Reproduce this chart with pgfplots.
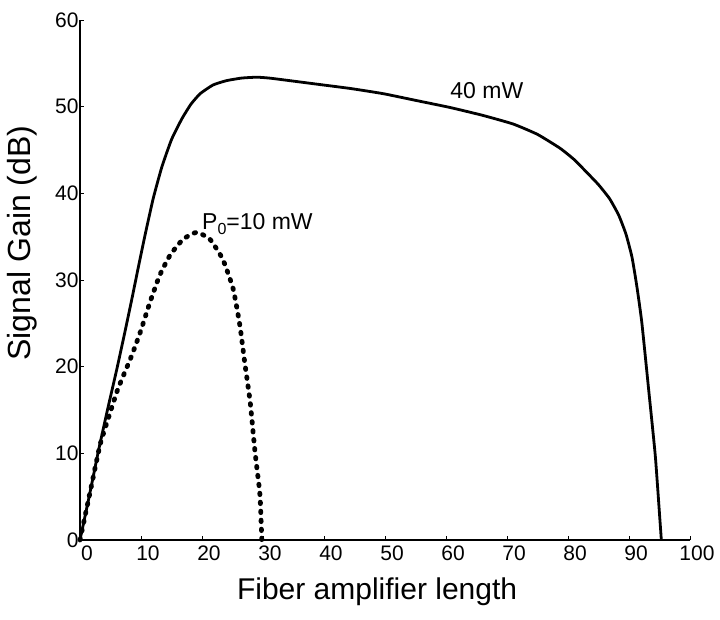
\documentclass[border=0pt]{standalone}
\usepackage{pgfplots}
\pgfplotsset{compat=1.18}
\usepackage{fontspec}
\setmainfont{Liberation Sans}
\begin{document}
\begin{tikzpicture}
\useasboundingbox (0,0) rectangle (720bp,620bp);
\begin{axis}[
  at={(80bp,80bp)}, anchor=south west,
  scale only axis, width=610bp, height=520bp,
  xmin=0, xmax=100, ymin=0, ymax=60,
  axis x line=bottom, axis y line=left,
  axis line style={-, line width=1.1bp, black},
  xtick={0,10,...,100}, ytick={0,10,...,60},
  tick align=inside, major tick length=4bp,
  tick style={line width=0.8bp, black},
  /pgf/number format/assume math mode=true,
  ticklabel style={font=\fontsize{21bp}{24bp}\selectfont},
  xticklabel style={xshift=7bp, yshift=-2bp},
  yticklabel style={xshift=2bp},
  xlabel={Fiber amplifier length},
  ylabel={Signal Gain (dB)},
  xlabel style={font=\fontsize{30bp}{34bp}\selectfont, at={(axis description cs:0.487,0)}, anchor=center, yshift=-52bp},
  ylabel style={font=\fontsize{32bp}{36bp}\selectfont, at={(axis description cs:-0.094,0.571)}, anchor=center},
  clip=false,
]
\addplot[black, line width=2.8bp, line join=round, smooth, tension=0.3] coordinates {
(0,0) (1.5,5.0) (3.0,10.2) (4.5,15.0) (6.0,19.6) (7.3,23.8) (8.5,27.8) (9.6,31.6)
(10.7,35.3) (12.0,39.4) (13.4,43.0) (15.0,46.2) (16.7,48.6) (18.2,50.3) (19.7,51.5)
(21.8,52.5) (24.0,53.0) (26.5,53.3) (29.0,53.4) (31.0,53.3) (33.3,53.1)
(38.8,52.6) (44.3,52.1) (49.7,51.5) (55.2,50.7) (60.7,49.9) (66,49.0)
(71.0,48.0) (75,46.8) (78.7,45.2) (81,43.9) (83.1,42.4) (85.0,41.0)
(86.8,39.4) (88.3,37.5) (89.5,35.3) (90.5,32.6) (91.3,29.2) (92.1,25.1)
(93.2,17.5) (94.3,9.8) (95.0,3.0) (95.3,0)
};
\addplot[black, line width=4.8bp, line cap=round, dash pattern=on 1.5bp off 7.5bp, smooth, tension=0.3] coordinates {
(0,0) (1.5,5.0) (3.3,11.0) (4.8,14.4) (6.2,17.4) (8.2,20.8) (9.8,23.8)
(11.5,27.5) (13.1,30.6) (14.8,32.9) (16.9,34.7) (19.1,35.5) (21.3,34.7)
(23.4,32.4) (25.1,29.0) (26.2,24.8) (27.0,20.5) (27.9,15.9) (28.7,10.1)
(29.5,5.2) (29.8,0)
};
\node[font=\fontsize{23bp}{26bp}\selectfont] at (axis cs:66.7,51.9) {40 mW};
\node[font=\fontsize{23bp}{26bp}\selectfont, anchor=west, inner sep=0pt] at (axis cs:20.0,36.4) {P\raisebox{-5bp}{\fontsize{16bp}{16bp}\selectfont 0}=10 mW};
\end{axis}
\end{tikzpicture}
\end{document}
